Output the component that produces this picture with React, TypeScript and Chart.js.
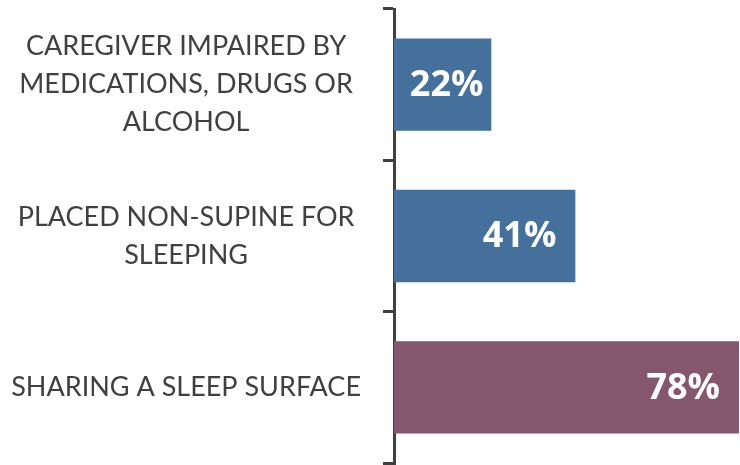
import React, { useEffect, useRef } from "react";
import { Chart, registerables } from "chart.js";

Chart.register(...registerables);

const categories: string[][] = [
  ["CAREGIVER IMPAIRED BY", "MEDICATIONS, DRUGS OR", "ALCOHOL"],
  ["PLACED NON-SUPINE FOR", "SLEEPING"],
  ["SHARING A SLEEP SURFACE"],
];
const values: number[] = [22, 41, 78];
const valueLabels: string[] = ["22%", "41%", "78%"];
const barColors: string[] = ["#44709B", "#44709B", "#85576F"];

const LABEL_FONT = "Lato";

const valueLabelPlugin = {
  id: "valueLabels",
  afterDatasetsDraw(chart: any) {
    const ctx = chart.ctx;
    const meta = chart.getDatasetMeta(0);
    ctx.save();
    ctx.font = `bold 36px "Open Sans", sans-serif`;
    ctx.fillStyle = "#FFFFFF";
    ctx.textBaseline = "middle";
    meta.data.forEach((bar: any, i: number) => {
      const text = valueLabels[i];
      const w = ctx.measureText(text).width;
      const left = bar.base;
      const right = bar.x;
      const pad = 19;
      if (right - left < w + 2 * pad) {
        ctx.textAlign = "center";
        ctx.fillText(text, (left + right) / 2 + 4, bar.y + 1);
      } else {
        ctx.textAlign = "right";
        ctx.fillText(text, right - pad, bar.y + 1);
      }
    });
    ctx.restore();
  },
};

export default function App() {
  const ref = useRef<HTMLCanvasElement | null>(null);
  useEffect(() => {
    if (!ref.current) return;
    const chart = new Chart(ref.current, {
      type: "bar",
      data: {
        labels: categories,
        datasets: [
          {
            data: values,
            backgroundColor: barColors,
            borderWidth: 0,
            categoryPercentage: 0.61,
            barPercentage: 1,
          },
        ],
      },
      options: {
        indexAxis: "y",
        animation: false,
        responsive: false,
        maintainAspectRatio: false,
        layout: { padding: { top: 9, bottom: 2, left: 0, right: 1 } },
        plugins: {
          legend: { display: false },
          tooltip: { enabled: false },
        },
        scales: {
          x: { display: false, min: 0, max: 78 },
          y: {
            afterFit(scale: any) {
              scale.width = 394;
              scale.paddingTop = 0;
              scale.paddingBottom = 0;
            },
            ticks: {
              crossAlign: "center",
              padding: 22,
              color: "#404040",
              font: { family: LABEL_FONT, size: 27, lineHeight: 38 / 27 },
            },
            grid: {
              drawOnChartArea: false,
              offset: true,
              tickLength: 11,
              lineWidth: 3,
              color: "#404040",
            },
            border: { color: "#404040", width: 3 },
          },
        },
      },
      plugins: [valueLabelPlugin],
    });
    return () => chart.destroy();
  }, []);
  return (
    <div style={{ position: "absolute", left: 0, top: 0, width: 740, height: 465 }}>
      <canvas ref={ref} width={740} height={465} style={{ width: 740, height: 465 }} />
    </div>
  );
}
